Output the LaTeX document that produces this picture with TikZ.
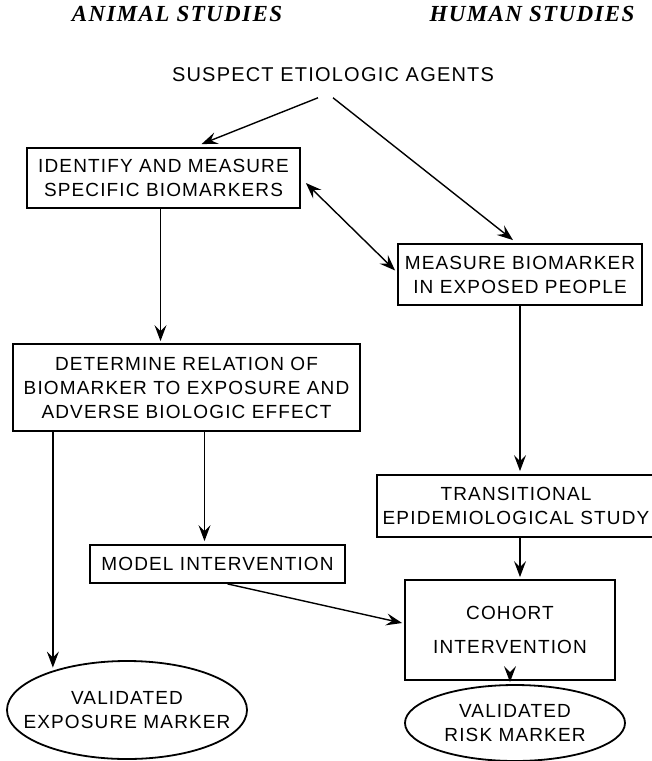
\documentclass[tikz,border=0pt]{standalone}
\usepackage{fontspec}
\setmainfont{Liberation Sans}[LetterSpace=6]
\newfontfamily\headfont{Liberation Serif}[LetterSpace=6]
\usetikzlibrary{positioning,shapes.geometric,arrows.meta}

\begin{document}
\begin{tikzpicture}[x=1pt, y=-1pt, line width=1.4pt,
  every node/.style={font=\fontsize{19}{24}\selectfont, align=center, inner sep=0pt}]
\tikzstyle{box}=[draw, rectangle, line width=1.8pt]
\tikzstyle{oval}=[draw, ellipse, line width=1.8pt, inner xsep=-20pt]
\tikzstyle{head}=[font=\headfont\bfseries\itshape\fontsize{23}{26}\selectfont]
\tikzstyle{flow}=[-{Stealth[length=16pt,width=12pt,inset=6pt]}]
\tikzstyle{both}=[{Stealth[length=16pt,width=12pt,inset=6pt]}-{Stealth[length=16pt,width=12pt,inset=6pt]}]

\useasboundingbox (0,0) rectangle (652,761);

\node [head] (animal) at (177,14) {ANIMAL STUDIES};
\node [head] (human) at (532,14) {HUMAN STUDIES};
\node [font=\fontsize{20}{24}\selectfont] (agents) at (333,75) {SUSPECT ETIOLOGIC AGENTS};

% left column
\node [box, minimum width=273pt, minimum height=60pt] (identify) at (163.5,178)
  {IDENTIFY AND MEASURE\\SPECIFIC BIOMARKERS};
\node [box, minimum width=347pt, minimum height=87pt] (determine) at (186.5,387.5)
  {DETERMINE RELATION OF\\BIOMARKER TO EXPOSURE AND\\ADVERSE BIOLOGIC EFFECT};
\node [box, minimum width=255pt, minimum height=38pt] (model) at (217.5,564)
  {MODEL INTERVENTION};
\node [oval, minimum width=240pt, minimum height=98pt] (exposure) at (127,710)
  {VALIDATED\\EXPOSURE MARKER};

% right column
\node [box, minimum width=244pt, minimum height=61pt] (measure) at (520,274.5)
  {MEASURE BIOMARKER\\IN EXPOSED PEOPLE};
\node [box, minimum width=278pt, minimum height=62pt] (trans) at (516,506)
  {TRANSITIONAL\\EPIDEMIOLOGICAL STUDY};
\node [box, minimum width=210pt, minimum height=100pt] (cohort) at (510,630)
  {COHORT\\[10pt]INTERVENTION};
\node [oval, minimum width=220pt, minimum height=76pt] (risk) at (515,723)
  {VALIDATED\\RISK MARKER};

\draw [flow] ([xshift=-15pt,yshift=-15pt]agents.south) -- ([xshift=38pt,yshift=3pt]identify.north);
\draw [flow] ([yshift=-15pt]agents.south) -- ([xshift=-7pt,yshift=3pt]measure.north);
\draw [both] ([xshift=5pt,yshift=-5pt]identify.east) -- ([xshift=-2pt,yshift=4pt]measure.west);
\draw [flow] ([xshift=-3pt]identify.south) -- ([xshift=-3pt,yshift=2pt]identify.south |- determine.north);
\draw [flow] (measure.south) -- ([yshift=3pt]measure.south |- trans.north);
\draw [flow] (determine.south -| exposure.152) -- ([yshift=3pt]exposure.152);
\draw [flow] ([xshift=18pt]determine.south) -- ([xshift=18pt,yshift=3pt]determine.south |- model.north);
\draw [flow] ([xshift=4pt]trans.south) -- ([xshift=4pt,yshift=2pt]trans.south |- cohort.north);
\draw [flow] ([xshift=10pt]model.south) -- ([xshift=-2pt,yshift=7pt]cohort.west);
\draw [flow] (cohort.south) -- ([yshift=2pt]cohort.south |- risk.north);
\end{tikzpicture}
\end{document}
